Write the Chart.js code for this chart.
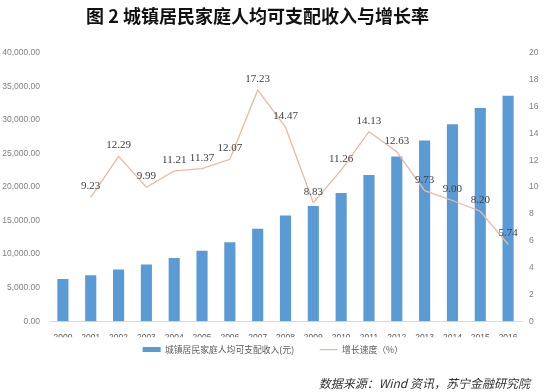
<!DOCTYPE html>
<html>
<head>
<meta charset="utf-8">
<script src="https://cdn.jsdelivr.net/npm/chart.js@4"></script>
<style>
  body { margin: 0; background: #fff; }
  #wrap { position: relative; width: 550px; height: 392px; }
  #title {
    position: absolute; left: 0; top: 2px; width: 515px; text-align: center;
    font: bold 18px "Noto Sans CJK SC", sans-serif; color: #111;
  }
  #source {
    position: absolute; right: 20px; top: 374px;
    font: italic 12px "Noto Sans CJK SC", sans-serif; color: #333;
  }
</style>
</head>
<body>
<div id="wrap">
  <canvas id="canvas" width="550" height="392"></canvas>
  <div id="title">图 2 城镇居民家庭人均可支配收入与增长率</div>
  <div id="source">数据来源：Wind 资讯，苏宁金融研究院</div>
</div>
<script>
const years = ['2000', '2001', '2002', '2003', '2004', '2005', '2006', '2007', '2008',
  '2009', '2010', '2011', '2012', '2013', '2014', '2015', '2016'];
const income = [6280, 6860, 7703, 8472, 9422, 10493, 11759, 13786, 15781,
  17175, 19109, 21810, 24565, 26955, 29381, 31790, 33616];
const growth = [null, 9.23, 12.29, 9.99, 11.21, 11.37, 12.07, 17.23, 14.47,
  8.83, 11.26, 14.13, 12.63, 9.73, 9.00, 8.20, 5.74];

const tickFont = {family: '"Liberation Sans Narrow", "Liberation Sans", sans-serif', size: 8.5};

// value labels above the growth line
const lineLabels = {
  id: 'lineLabels',
  afterDatasetsDraw(chart) {
    const meta = chart.getDatasetMeta(1);
    const ctx = chart.ctx;
    ctx.save();
    ctx.font = '11px "Liberation Serif", serif';
    ctx.fillStyle = '#404040';
    ctx.textAlign = 'center';
    ctx.textBaseline = 'middle';
    meta.data.forEach((pt, i) => {
      if (growth[i] == null) return;
      ctx.fillText(growth[i].toFixed(2), pt.x, pt.y - 11);
    });
    ctx.restore();
  }
};

document.addEventListener('DOMContentLoaded', () => {
  const context = document.getElementById('canvas').getContext('2d');

  new Chart(context, {
    type: 'bar',
    data: {
      labels: years,
      datasets: [
        {
          label: '城镇居民家庭人均可支配收入(元)',
          data: income,
          backgroundColor: '#5B9BD5',
          categoryPercentage: 1,
          barPercentage: 0.4,
          pointStyle: 'rect',
          yAxisID: 'y',
          order: 1,
        },
        {
          type: 'line',
          label: '增长速度（%）',
          data: growth,
          borderColor: '#E8BBA3',
          backgroundColor: '#E8BBA3',
          borderWidth: 1.3,
          pointRadius: 0,
          pointStyle: 'line',
          tension: 0,
          yAxisID: 'y1',
          order: 0,
        },
      ],
    },
    options: {
      responsive: false,
      animation: false,
      layout: {padding: {top: 53, bottom: 28}},
      plugins: {
        tooltip: {enabled: false},
        legend: {
          position: 'bottom',
          labels: {
            usePointStyle: true,
            pointStyleWidth: 18,
            boxHeight: 5,
            padding: 8,
            color: '#595959',
            font: {family: '"Noto Sans CJK SC", sans-serif', size: 8.8},
            sort: (a, b) => a.datasetIndex - b.datasetIndex,
            generateLabels: chart => {
              const items = Chart.defaults.plugins.legend.labels.generateLabels(chart);
              // pad the texts so the items sit apart and a bit left, as in the original
              items.forEach(item => {
                item.text += item.datasetIndex === 0 ? '\u3000\u3000' : '\u3000';
              });
              return items;
            },
          },
        },
      },
      scales: {
        x: {
          grid: {display: false},
          border: {display: true, color: '#D9D9D9'},
          ticks: {color: '#595959', font: tickFont, padding: 3, maxRotation: 0},
          afterFit: scale => { scale.height = 16; },
        },
        y: {
          position: 'left',
          min: 0,
          max: 40000,
          grid: {display: false, drawTicks: false},
          border: {display: false},
          ticks: {
            stepSize: 5000,
            color: '#7F7F7F',
            font: tickFont,
            padding: 9,
            callback: v => v.toLocaleString('en-US', {minimumFractionDigits: 2, maximumFractionDigits: 2}),
          },
          afterFit: scale => { scale.width = 49; },
        },
        y1: {
          position: 'right',
          min: 0,
          max: 20,
          grid: {display: false, drawTicks: false},
          border: {display: false},
          ticks: {stepSize: 2, color: '#7F7F7F', font: tickFont, padding: 7},
          afterFit: scale => { scale.width = 28; },
        },
      },
    },
    plugins: [lineLabels],
  });
});
</script>
</body>
</html>
